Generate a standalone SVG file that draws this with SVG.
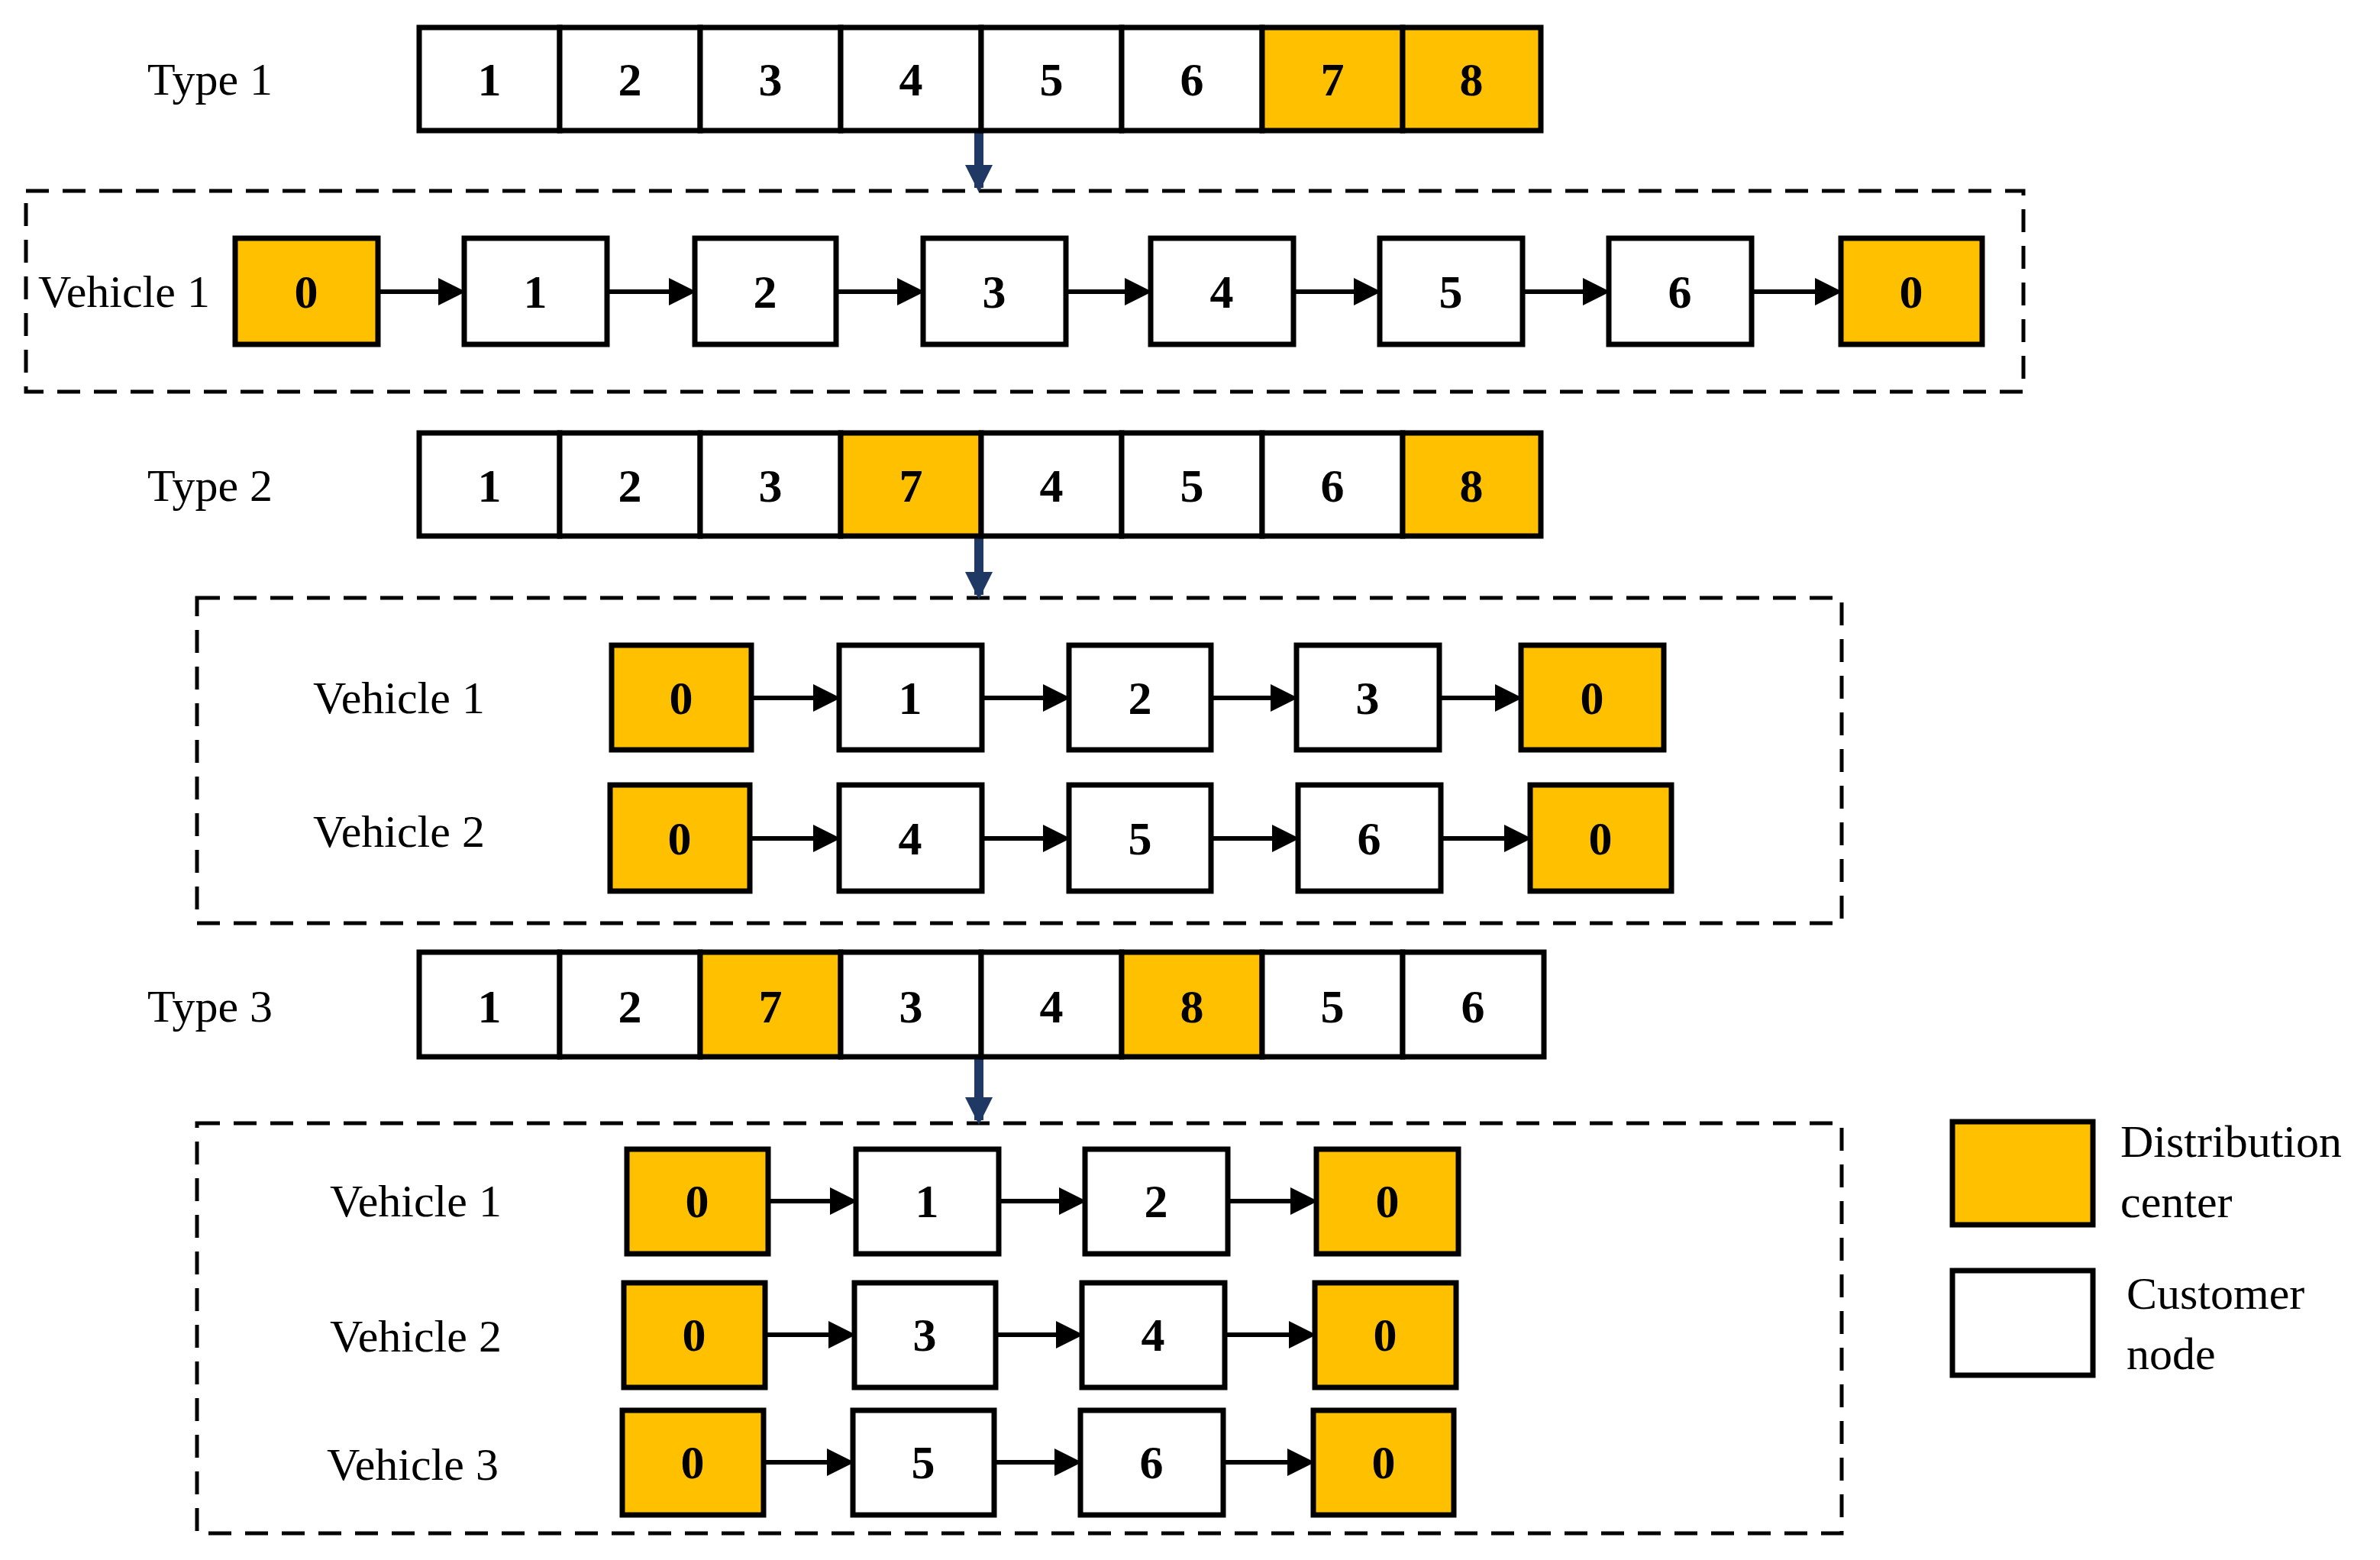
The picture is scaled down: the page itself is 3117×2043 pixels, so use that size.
<svg xmlns="http://www.w3.org/2000/svg" width="3117" height="2043" viewBox="0 0 3117 2043">
<style>
.o{fill:#FFC000;stroke:#000;stroke-width:7}
.w{fill:#fff;stroke:#000;stroke-width:7}
.n{font-family:"Liberation Serif",serif;font-weight:bold;font-size:62px;text-anchor:middle;dominant-baseline:central}
.l{font-family:"Liberation Serif",serif;font-size:60px;dominant-baseline:central}
.d{fill:none;stroke:#000;stroke-width:5;stroke-dasharray:30,18}
.c{stroke:#000;stroke-width:6;marker-end:url(#ah)}
.b{stroke:#1F3864;stroke-width:12;marker-end:url(#bh)}
</style>
<defs>
<marker id="ah" markerWidth="6" markerHeight="6" refX="5" refY="3" orient="auto" markerUnits="strokeWidth"><path d="M0,0 L6,3 L0,6 z" fill="#000"/></marker>
<marker id="bh" markerWidth="3" markerHeight="3" refX="2.5" refY="1.5" orient="auto" markerUnits="strokeWidth"><path d="M0,0 L3,1.5 L0,3 z" fill="#1F3864"/></marker>
</defs>
<rect width="3117" height="2043" fill="#fff"/>
<g id="frames">
<rect class="d" x="34" y="250" width="2616" height="263"/>
<rect class="d" x="258" y="783" width="2154" height="426"/>
<rect class="d" x="258" y="1471" width="2154" height="537"/>
</g>
<g id="connectors">
<line class="b" x1="1282" y1="165" x2="1282" y2="246"/>
<line class="b" x1="1282" y1="700" x2="1282" y2="779"/>
<line class="b" x1="1282" y1="1382" x2="1282" y2="1467"/>
<line class="c" x1="495" y1="382" x2="604" y2="382"/>
<line class="c" x1="795" y1="382" x2="906" y2="382"/>
<line class="c" x1="1095" y1="382" x2="1205" y2="382"/>
<line class="c" x1="1396" y1="382" x2="1503" y2="382"/>
<line class="c" x1="1694" y1="382" x2="1803" y2="382"/>
<line class="c" x1="1994" y1="382" x2="2103" y2="382"/>
<line class="c" x1="2294" y1="382" x2="2407" y2="382"/>
<line class="c" x1="984" y1="914" x2="1095" y2="914"/>
<line class="c" x1="1286" y1="914" x2="1396" y2="914"/>
<line class="c" x1="1586" y1="914" x2="1694" y2="914"/>
<line class="c" x1="1885" y1="914" x2="1988" y2="914"/>
<line class="c" x1="982" y1="1098" x2="1095" y2="1098"/>
<line class="c" x1="1286" y1="1098" x2="1396" y2="1098"/>
<line class="c" x1="1586" y1="1098" x2="1696" y2="1098"/>
<line class="c" x1="1887" y1="1098" x2="2000" y2="1098"/>
<line class="c" x1="1006" y1="1573" x2="1117" y2="1573"/>
<line class="c" x1="1308" y1="1573" x2="1417" y2="1573"/>
<line class="c" x1="1608" y1="1573" x2="1720" y2="1573"/>
<line class="c" x1="1002" y1="1748" x2="1115" y2="1748"/>
<line class="c" x1="1304" y1="1748" x2="1413" y2="1748"/>
<line class="c" x1="1604" y1="1748" x2="1718" y2="1748"/>
<line class="c" x1="1000" y1="1915" x2="1113" y2="1915"/>
<line class="c" x1="1302" y1="1915" x2="1411" y2="1915"/>
<line class="c" x1="1602" y1="1915" x2="1716" y2="1915"/>
</g>
<g id="type1">
<text class="l" x="193" y="104">Type 1</text>
<rect class="w" x="549" y="36" width="184" height="135"/><text class="n" x="641" y="104">1</text>
<rect class="w" x="733" y="36" width="184" height="135"/><text class="n" x="825" y="104">2</text>
<rect class="w" x="917" y="36" width="184" height="135"/><text class="n" x="1009" y="104">3</text>
<rect class="w" x="1101" y="36" width="184" height="135"/><text class="n" x="1193" y="104">4</text>
<rect class="w" x="1285" y="36" width="184" height="135"/><text class="n" x="1377" y="104">5</text>
<rect class="w" x="1469" y="36" width="184" height="135"/><text class="n" x="1561" y="104">6</text>
<rect class="o" x="1653" y="36" width="184" height="135"/><text class="n" x="1745" y="104">7</text>
<rect class="o" x="1837" y="36" width="181" height="135"/><text class="n" x="1927" y="104">8</text>
</g>
<g id="t1v1">
<text class="l" x="50" y="382">Vehicle 1</text>
<rect class="o" x="308" y="312" width="187" height="139"/><text class="n" x="401" y="382">0</text>
<rect class="w" x="608" y="312" width="187" height="139"/><text class="n" x="701" y="382">1</text>
<rect class="w" x="910" y="312" width="185" height="139"/><text class="n" x="1002" y="382">2</text>
<rect class="w" x="1209" y="312" width="187" height="139"/><text class="n" x="1302" y="382">3</text>
<rect class="w" x="1507" y="312" width="187" height="139"/><text class="n" x="1600" y="382">4</text>
<rect class="w" x="1807" y="312" width="187" height="139"/><text class="n" x="1900" y="382">5</text>
<rect class="w" x="2107" y="312" width="187" height="139"/><text class="n" x="2200" y="382">6</text>
<rect class="o" x="2411" y="312" width="185" height="139"/><text class="n" x="2503" y="382">0</text>
</g>
<g id="type2">
<text class="l" x="193" y="636">Type 2</text>
<rect class="w" x="549" y="567" width="184" height="135"/><text class="n" x="641" y="636">1</text>
<rect class="w" x="733" y="567" width="184" height="135"/><text class="n" x="825" y="636">2</text>
<rect class="w" x="917" y="567" width="184" height="135"/><text class="n" x="1009" y="636">3</text>
<rect class="o" x="1101" y="567" width="184" height="135"/><text class="n" x="1193" y="636">7</text>
<rect class="w" x="1285" y="567" width="184" height="135"/><text class="n" x="1377" y="636">4</text>
<rect class="w" x="1469" y="567" width="184" height="135"/><text class="n" x="1561" y="636">5</text>
<rect class="w" x="1653" y="567" width="184" height="135"/><text class="n" x="1745" y="636">6</text>
<rect class="o" x="1837" y="567" width="181" height="135"/><text class="n" x="1927" y="636">8</text>
</g>
<g id="t2v1">
<text class="l" x="410" y="914">Vehicle 1</text>
<rect class="o" x="801" y="845" width="183" height="137"/><text class="n" x="892" y="914">0</text>
<rect class="w" x="1099" y="845" width="187" height="137"/><text class="n" x="1192" y="914">1</text>
<rect class="w" x="1400" y="845" width="186" height="137"/><text class="n" x="1493" y="914">2</text>
<rect class="w" x="1698" y="845" width="187" height="137"/><text class="n" x="1791" y="914">3</text>
<rect class="o" x="1992" y="845" width="187" height="137"/><text class="n" x="2085" y="914">0</text>
</g>
<g id="t2v2">
<text class="l" x="410" y="1089">Vehicle 2</text>
<rect class="o" x="799" y="1028" width="183" height="139"/><text class="n" x="890" y="1098">0</text>
<rect class="w" x="1099" y="1028" width="187" height="139"/><text class="n" x="1192" y="1098">4</text>
<rect class="w" x="1400" y="1028" width="186" height="139"/><text class="n" x="1493" y="1098">5</text>
<rect class="w" x="1700" y="1028" width="187" height="139"/><text class="n" x="1793" y="1098">6</text>
<rect class="o" x="2004" y="1028" width="185" height="139"/><text class="n" x="2096" y="1098">0</text>
</g>
<g id="type3">
<text class="l" x="193" y="1318">Type 3</text>
<rect class="w" x="549" y="1247" width="184" height="137"/><text class="n" x="641" y="1318">1</text>
<rect class="w" x="733" y="1247" width="184" height="137"/><text class="n" x="825" y="1318">2</text>
<rect class="o" x="917" y="1247" width="184" height="137"/><text class="n" x="1009" y="1318">7</text>
<rect class="w" x="1101" y="1247" width="184" height="137"/><text class="n" x="1193" y="1318">3</text>
<rect class="w" x="1285" y="1247" width="184" height="137"/><text class="n" x="1377" y="1318">4</text>
<rect class="o" x="1469" y="1247" width="184" height="137"/><text class="n" x="1561" y="1318">8</text>
<rect class="w" x="1653" y="1247" width="184" height="137"/><text class="n" x="1745" y="1318">5</text>
<rect class="w" x="1837" y="1247" width="185" height="137"/><text class="n" x="1929" y="1318">6</text>
</g>
<g id="t3v1">
<text class="l" x="432" y="1573">Vehicle 1</text>
<rect class="o" x="821" y="1505" width="185" height="137"/><text class="n" x="913" y="1573">0</text>
<rect class="w" x="1121" y="1505" width="187" height="137"/><text class="n" x="1214" y="1573">1</text>
<rect class="w" x="1421" y="1505" width="187" height="137"/><text class="n" x="1514" y="1573">2</text>
<rect class="o" x="1724" y="1505" width="186" height="137"/><text class="n" x="1817" y="1573">0</text>
</g>
<g id="t3v2">
<text class="l" x="432" y="1750">Vehicle 2</text>
<rect class="o" x="817" y="1680" width="185" height="137"/><text class="n" x="909" y="1748">0</text>
<rect class="w" x="1119" y="1680" width="185" height="137"/><text class="n" x="1211" y="1748">3</text>
<rect class="w" x="1417" y="1680" width="187" height="137"/><text class="n" x="1510" y="1748">4</text>
<rect class="o" x="1722" y="1680" width="185" height="137"/><text class="n" x="1814" y="1748">0</text>
</g>
<g id="t3v3">
<text class="l" x="428" y="1918">Vehicle 3</text>
<rect class="o" x="815" y="1847" width="185" height="137"/><text class="n" x="907" y="1915">0</text>
<rect class="w" x="1117" y="1847" width="185" height="137"/><text class="n" x="1209" y="1915">5</text>
<rect class="w" x="1415" y="1847" width="187" height="137"/><text class="n" x="1508" y="1915">6</text>
<rect class="o" x="1720" y="1847" width="184" height="137"/><text class="n" x="1812" y="1915">0</text>
</g>
<g id="legend">
<rect class="o" x="2557" y="1469" width="184" height="135"/>
<text class="l" x="2777" y="1495">Distribution</text>
<text class="l" x="2777" y="1574">center</text>
<rect class="w" x="2557" y="1664" width="184" height="137"/>
<text class="l" x="2785" y="1694">Customer</text>
<text class="l" x="2785" y="1773">node</text>
</g>
</svg>
